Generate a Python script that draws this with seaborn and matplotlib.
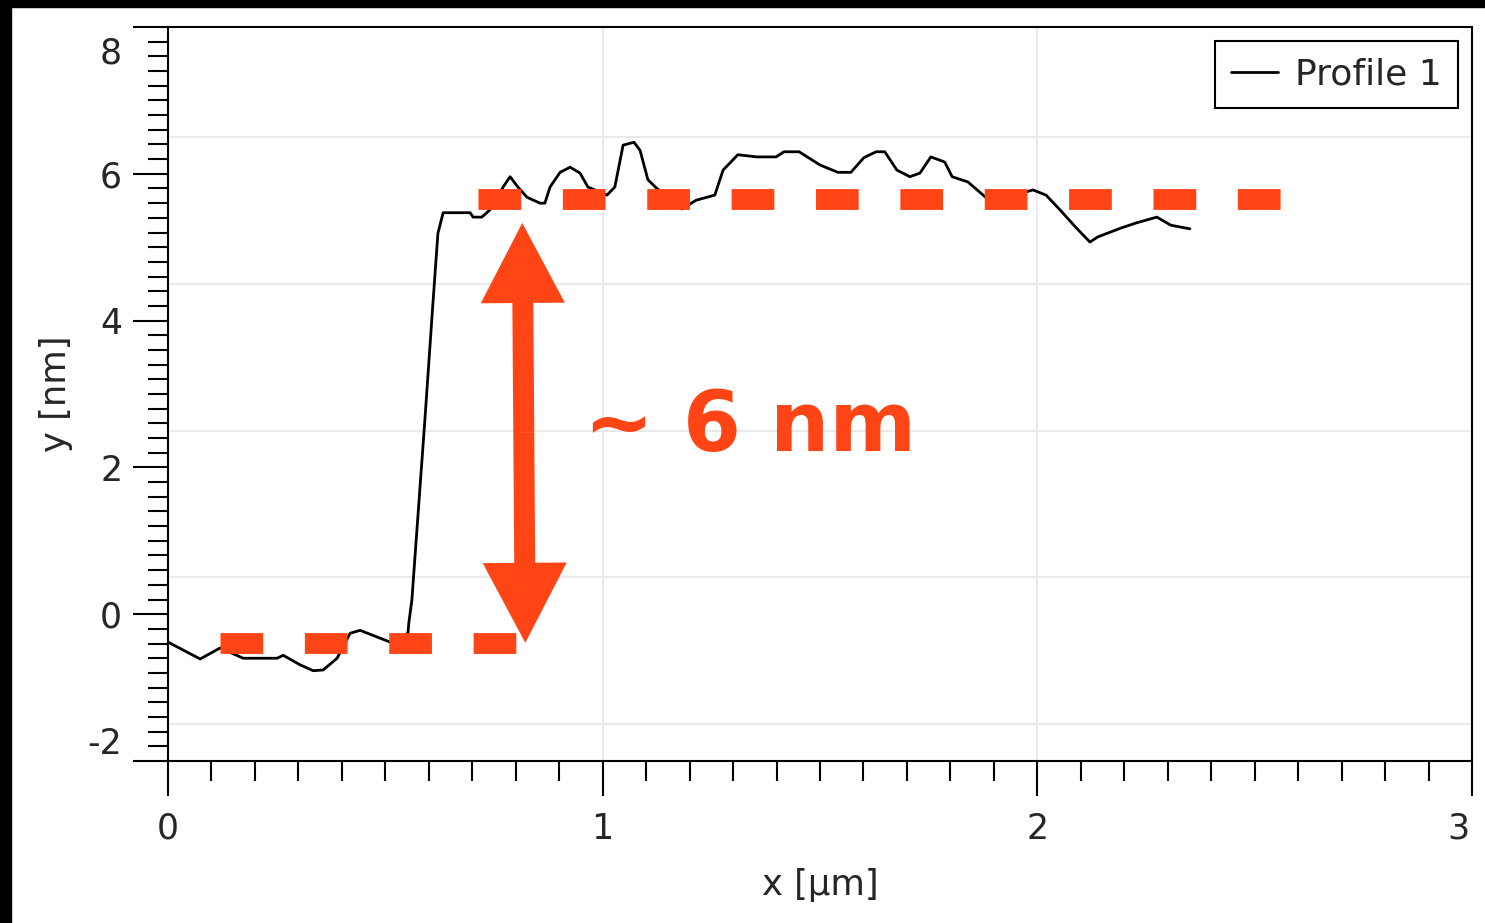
import numpy as np
import pandas as pd
import seaborn as sns
import matplotlib.pyplot as plt
from matplotlib.ticker import MultipleLocator
from matplotlib.transforms import ScaledTranslation

# height profile across the step
x_um = [0.000, 0.074, 0.120, 0.173, 0.251, 0.265, 0.304, 0.334, 0.357, 0.389,
        0.419, 0.442, 0.511, 0.552, 0.554, 0.561, 0.591, 0.610, 0.621, 0.633,
        0.695, 0.702, 0.722, 0.741, 0.771, 0.787, 0.805, 0.826, 0.856, 0.867,
        0.879, 0.902, 0.925, 0.948, 0.966, 1.010, 1.028, 1.047, 1.072, 1.086,
        1.104, 1.123, 1.182, 1.215, 1.258, 1.277, 1.311, 1.355, 1.399, 1.417,
        1.452, 1.500, 1.541, 1.571, 1.601, 1.629, 1.649, 1.677, 1.707, 1.730,
        1.755, 1.787, 1.804, 1.840, 1.893, 1.990, 2.020, 2.052, 2.087, 2.121,
        2.139, 2.192, 2.227, 2.275, 2.307, 2.351]
y_nm = [-0.38, -0.61, -0.46, -0.60, -0.60, -0.56, -0.69, -0.77, -0.76, -0.60,
        -0.26, -0.22, -0.38, -0.26, -0.12, 0.19, 2.65, 4.28, 5.19, 5.47,
        5.47, 5.41, 5.41, 5.51, 5.82, 5.96, 5.82, 5.68, 5.60, 5.60,
        5.82, 6.02, 6.09, 6.01, 5.82, 5.71, 5.82, 6.39, 6.43, 6.32,
        5.92, 5.81, 5.52, 5.64, 5.71, 6.05, 6.26, 6.23, 6.23, 6.30,
        6.30, 6.12, 6.02, 6.02, 6.22, 6.30, 6.30, 6.05, 5.96, 6.01,
        6.23, 6.16, 5.96, 5.89, 5.62, 5.78, 5.71, 5.51, 5.28, 5.07,
        5.14, 5.26, 5.33, 5.41, 5.30, 5.25]

# annotation: the two levels and the step height
lower_level = -0.386
upper_level = 5.657
lower_span = [0.120, 0.807]
upper_span = [0.713, 2.570]
arrow_x = [0.815, 0.822]
arrow_y = [5.33, -0.39]
step_text = "~ 6 nm"
text_xy = (0.957, 2.22)

grid_x = [1, 2]
grid_y = [-1.5, 0.5, 2.5, 4.5, 6.5]
x_ticks = [0, 1, 2, 3]
y_ticks = [-2, 0, 2, 4, 6, 8]

accent = "#FF4515"
ink = "#262626"

df = pd.DataFrame({"x": x_um, "y": y_nm})

sns.set_style("white")
plt.rcParams["font.family"] = ["DejaVu Sans"]

fig = plt.figure(figsize=(14.85, 9.23), dpi=100)
ax = fig.add_axes([168 / 1485, 1 - 761 / 923, 1304 / 1485, 734 / 923])

for gx in grid_x:
    ax.axvline(gx, color="#e8e8e8", lw=1.3, zorder=0)
for gy in grid_y:
    ax.axhline(gy, color="#e8e8e8", lw=1.3, zorder=0)

sns.lineplot(data=df, x="x", y="y", ax=ax, color="black", lw=2.0,
             sort=False, estimator=None, label="Profile 1", zorder=3)

ax.plot(lower_span, [lower_level, lower_level], color=accent, lw=15,
        dashes=(2.05, 2.0), zorder=4)
ax.plot(upper_span, [upper_level, upper_level], color=accent, lw=15,
        dashes=(2.05, 2.0), zorder=4)

# double-headed arrow built from two halves
mid = (np.mean(arrow_x), np.mean(arrow_y))
for ax_x, ax_y in zip(arrow_x, arrow_y):
    ax.annotate("", xy=(ax_x, ax_y), xytext=mid,
                arrowprops=dict(arrowstyle="simple,head_length=0.576,head_width=0.605,tail_width=0.151",
                                mutation_scale=100, fc=accent, ec="none", lw=0,
                                shrinkA=0, shrinkB=0), zorder=5)

ax.text(text_xy[0], text_xy[1], step_text, color=accent, fontsize=60,
        fontweight="bold", va="baseline", ha="left", zorder=6)

ax.set_xlim(0, 3)
ax.set_ylim(-2, 8)
ax.set_xticks(x_ticks)
ax.set_yticks(y_ticks)
ax.set_xticklabels([str(t) for t in x_ticks])
ax.set_yticklabels([str(t) for t in y_ticks])
ax.xaxis.set_minor_locator(MultipleLocator(0.1))
ax.yaxis.set_minor_locator(MultipleLocator(0.2))
ax.tick_params(which="both", bottom=True, left=True, top=False, right=False)
ax.tick_params(which="major", direction="out", length=25, width=1.5,
               color="black", labelsize=25, labelcolor=ink)
ax.tick_params(axis="y", which="major", pad=8)
ax.tick_params(axis="x", which="major", pad=11.5)
ax.tick_params(which="minor", direction="out", length=14.4, width=1.5, color="black")

for s in ax.spines.values():
    s.set_linewidth(1.5)
    s.set_color("black")

# nudge the end labels inside like the original export
ylabs = ax.yaxis.get_major_ticks()
ylabs[-1].label1.set_transform(ylabs[-1].label1.get_transform() + ScaledTranslation(0, -0.23, fig.dpi_scale_trans))
ylabs[0].label1.set_transform(ylabs[0].label1.get_transform() + ScaledTranslation(0, 0.21, fig.dpi_scale_trans))
xlabs = ax.xaxis.get_major_ticks()
xlabs[-1].label1.set_transform(xlabs[-1].label1.get_transform() + ScaledTranslation(-0.14, 0, fig.dpi_scale_trans))

ax.set_xlabel("x [µm]", fontsize=25.5, color=ink)
ax.set_ylabel("y [nm]", fontsize=25.5, color=ink)
ax.xaxis.set_label_coords(0.5, -0.1458)
ax.yaxis.set_label_coords(-0.073, 0.5)

leg = ax.legend(loc="upper right", fontsize=26, frameon=True, fancybox=False,
                borderaxespad=0.4, handlelength=1.3, handletextpad=0.45,
                borderpad=0.45, framealpha=1)
leg.get_frame().set_edgecolor("black")
leg.get_frame().set_linewidth(1.5)
for t in leg.get_texts():
    t.set_color(ink)

# black strips along the top and left edges of the screenshot
fig.patches.append(plt.Rectangle((0, 1 - 7 / 923), 1, 7 / 923, transform=fig.transFigure,
                                 color="black", zorder=10))
fig.patches.append(plt.Rectangle((0, 0), 11 / 1485, 1, transform=fig.transFigure,
                                 color="black", zorder=10))

fig.savefig("out.png", dpi=100)
